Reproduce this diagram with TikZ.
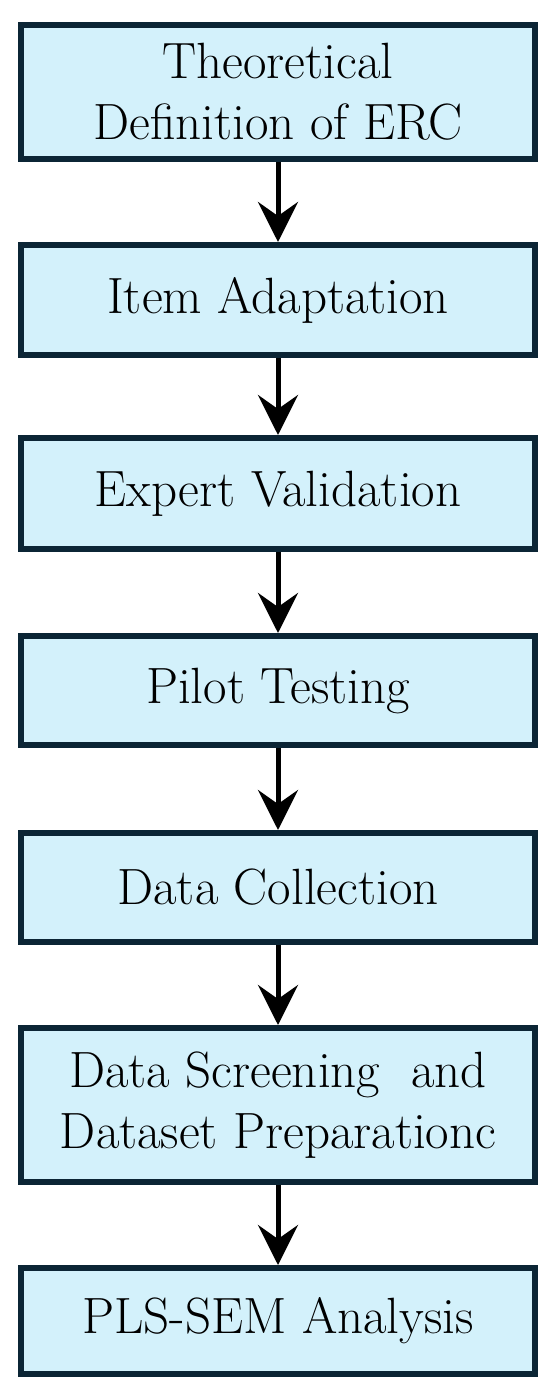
\documentclass[tikz,border=0pt]{standalone}
\usetikzlibrary{arrows.meta}
\definecolor{boxline}{HTML}{0B2535}
\definecolor{boxfill}{HTML}{D3F1FB}
\tikzset{
  stepbox/.style={draw=boxline, fill=boxfill, line width=6pt, minimum width=514pt,
    align=center, font=\fontsize{51}{61}\selectfont, inner sep=0pt},
  flowarrow/.style={line width=5pt, -{Stealth[length=40pt, width=40pt, inset=14pt]}}
}
\begin{document}
\begin{tikzpicture}[x=1pt, y=-1pt]
  \useasboundingbox (0,0) rectangle (550,1398);
  % boxes, top to bottom
  \node [stepbox, minimum height=134pt] (theory) at (278,92) {Theoretical\\Definition of ERC};
  \node [stepbox, minimum height=110pt] (adapt) at (278,300) {Item Adaptation};
  \node [stepbox, minimum height=111pt] (expert) at (278,493.5) {Expert Validation};
  \node [stepbox, minimum height=109pt] (pilot) at (278,690.5) {Pilot Testing};
  \node [stepbox, minimum height=109pt] (collect) at (278,887.5) {Data Collection};
  \node [stepbox, minimum height=154pt] (screen) at (278,1105) {Data Screening\ \ and\\Dataset Preparationc};
  \node [stepbox, minimum height=106pt] (pls) at (278,1321) {PLS-SEM Analysis};

  % arrows
  \draw [flowarrow] (theory.south) -- (adapt.north);
  \draw [flowarrow] (adapt.south) -- (expert.north);
  \draw [flowarrow] (expert.south) -- (pilot.north);
  \draw [flowarrow] (pilot.south) -- (collect.north);
  \draw [flowarrow] (collect.south) -- (screen.north);
  \draw [flowarrow] (screen.south) -- (pls.north);
\end{tikzpicture}
\end{document}
